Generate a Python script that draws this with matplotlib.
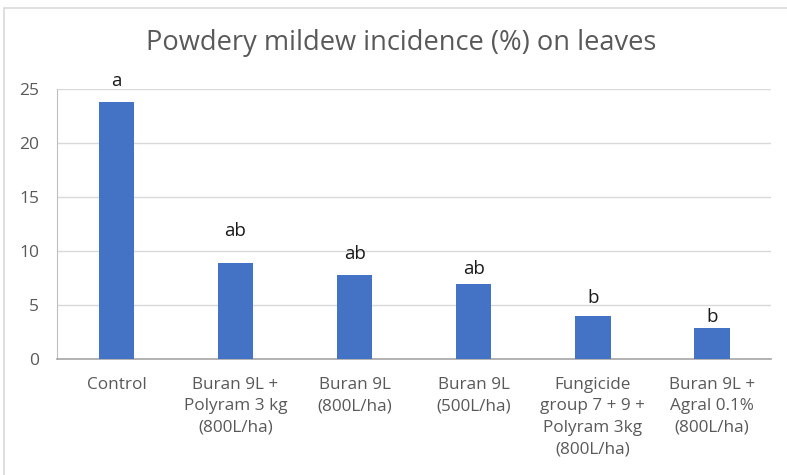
import matplotlib.pyplot as plt
from matplotlib.patches import Rectangle

# Data
treatments = ['Control',
              'Buran 9L +\nPolyram 3 kg\n(800L/ha)',
              'Buran 9L\n(800L/ha)',
              'Buran 9L\n(500L/ha)',
              'Fungicide\ngroup 7 + 9 +\nPolyram 3kg\n(800L/ha)',
              'Buran 9L +\nAgral 0.1%\n(800L/ha)']
incidence = [23.8, 8.9, 7.8, 6.9, 4.0, 2.9]
letters = ['a', 'ab', 'ab', 'ab', 'b', 'b']

# gap between bar top and its letter, in points (labels were placed by hand)
letter_gap = [8.5, 16.5, 8.5, 4.5, 6, 1.5]

plt.rcParams['font.family'] = ['Open Sans', 'DejaVu Sans']

fig = plt.figure(figsize=(7.87, 4.75), dpi=100)
ax = fig.add_axes([0.0724, 0.2442, 0.9076, 0.5684])

x = range(len(treatments))
bars = ax.bar(x, incidence, width=0.3, color='#4472C4', zorder=3)

for b, lab, gap in zip(bars, letters, letter_gap):
    ax.annotate(lab, (b.get_x() + b.get_width() / 2, b.get_height()),
                xytext=(0, gap), textcoords='offset points',
                ha='center', va='bottom', fontsize=13.5, color='#1a1a1a')

ax.set_xlim(-0.5, len(treatments) - 0.5)
ax.set_ylim(0, 25)
ax.set_yticks(range(0, 26, 5))
ax.set_xticks(list(x))
ax.set_xticklabels(treatments, fontsize=12.3, color='#595959', linespacing=1.45)
ax.tick_params(axis='y', labelsize=12.5, colors='#595959', length=0, pad=13)
ax.tick_params(axis='x', length=0, pad=13)
ax.grid(axis='y', color='#d9d9d9', linewidth=1, zorder=0)

for s in ['top', 'right']:
    ax.spines[s].set_visible(False)
ax.spines['left'].set_color('#bfbfbf')
ax.spines['bottom'].set_color('#a6a6a6')
ax.spines['bottom'].set_linewidth(1.2)

fig.text(401 / 787, 1 - 43 / 475, 'Powdery mildew incidence (%) on leaves',
         ha='center', va='center', fontsize=19.6, color='#595959')

# chart frame (only left and top edges fall inside the image)
fig.patches.append(Rectangle((0.005, -0.02), 1.1, 1 - 8 / 475 + 0.02,
                             transform=fig.transFigure, fill=False,
                             edgecolor='#d9d9d9', linewidth=1.2))

fig.savefig('out.png', dpi=100)
